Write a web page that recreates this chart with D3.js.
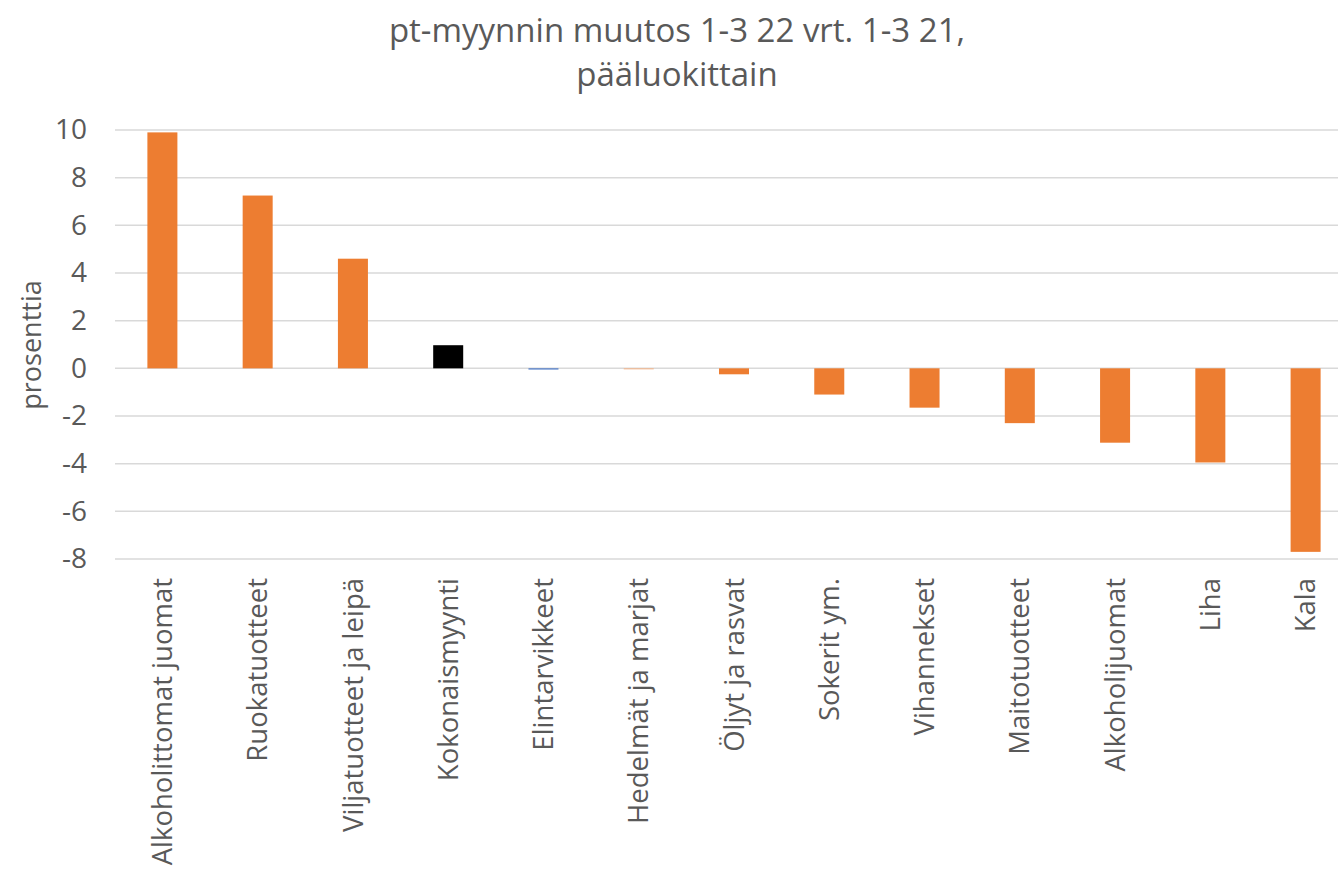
<!DOCTYPE html>
<html>
<head>
<meta charset="utf-8">
<script src="https://cdn.jsdelivr.net/npm/d3@7"></script>
<style>
  body { margin: 0; background: #fff; }
  svg text { font-family: "Open Sans", "Noto Sans", sans-serif; fill: #595959; }
</style>
</head>
<body>
<svg id="chart" width="1338" height="877"></svg>
<script>
/** Chart data */
var categories = ["Alkoholittomat juomat", "Ruokatuotteet", "Viljatuotteet ja leipä",
  "Kokonaismyynti", "Elintarvikkeet", "Hedelmät ja marjat", "Öljyt ja rasvat",
  "Sokerit ym.", "Vihannekset", "Maitotuotteet", "Alkoholijuomat", "Liha", "Kala"];
var values = [9.9, 7.25, 4.6, 0.97, -0.05, -0.04, -0.25, -1.1, -1.65, -2.3, -3.12, -3.95, -7.7];
var barColors = ["#ED7D31", "#ED7D31", "#ED7D31", "#000000", "#4472C4", "#F4B183",
  "#ED7D31", "#ED7D31", "#ED7D31", "#ED7D31", "#ED7D31", "#ED7D31", "#ED7D31"];
var yTicks = [-8, -6, -4, -2, 0, 2, 4, 6, 8, 10];
var titleLines = ["pt-myynnin muutos 1-3 22 vrt. 1-3 21,", "pääluokittain"];
var yTitle = "prosenttia";

var svg = d3.select("#chart");

// plot area (don't call it "top", that's window.top)
var plotLeft = 115, plotRight = 1353, plotTop = 130, plotBottom = 559;

var x = d3.scaleBand()
    .domain(categories)
    .range([plotLeft, plotRight])
    .paddingInner(0.685)
    .paddingOuter(0.34);

var y = d3.scaleLinear()
    .domain([-8, 10])
    .range([plotBottom, plotTop]);

// gridlines
svg.append("g").selectAll("line")
  .data(yTicks).enter().append("line")
  .attr("x1", plotLeft).attr("x2", 1338)
  .attr("y1", function(d){ return y(d); })
  .attr("y2", function(d){ return y(d); })
  .attr("stroke", "#d9d9d9")
  .attr("stroke-width", 1.5);

// bars
svg.append("g").selectAll("rect")
  .data(values).enter().append("rect")
  .attr("x", function(d, i){ return x(categories[i]); })
  .attr("width", x.bandwidth())
  .attr("y", function(d){ return y(Math.max(0, d)); })
  .attr("height", function(d){ return Math.max(1, Math.abs(y(d) - y(0))); })
  .attr("fill", function(d, i){ return barColors[i]; });

// y axis labels - plain hyphen minus like the original, not d3's unicode minus
var yAxis = d3.axisLeft(y).tickValues(yTicks).tickSize(0).tickPadding(0)
  .tickFormat(function(d){ return String(d); });
var yg = svg.append("g")
  .attr("transform", "translate(" + 87 + ",0)")
  .call(yAxis);
yg.select(".domain").remove();
yg.selectAll("text")
  .style("font-size", "28px")
  .attr("fill", "#595959");

// x axis labels (rotated)
var xAxis = d3.axisBottom(x).tickSize(0).tickPadding(0);
var xg = svg.append("g")
  .attr("transform", "translate(0," + 578 + ")")
  .call(xAxis);
xg.select(".domain").remove();
xg.selectAll("text")
  .style("font-size", "27.5px")
  .attr("fill", "#595959")
  .attr("text-anchor", "end")
  .attr("dy", "0.35em")
  .attr("transform", "rotate(-90)")
  .attr("x", 0)
  .attr("y", 0);
// axis sets font-family on the <g>, drop it so the css font wins
yg.attr("font-family", null);
xg.attr("font-family", null);

// y title
svg.append("text")
  .attr("transform", "translate(41,345) rotate(-90)")
  .attr("text-anchor", "middle")
  .style("font-size", "27px")
  .text(yTitle);

// chart title
svg.append("g").selectAll("text")
  .data(titleLines).enter().append("text")
  .attr("x", 677)
  .attr("y", function(d, i){ return 42 + i * 44; })
  .attr("text-anchor", "middle")
  .style("font-size", "33px")
  .text(function(d){ return d; });
</script>
</body>
</html>
